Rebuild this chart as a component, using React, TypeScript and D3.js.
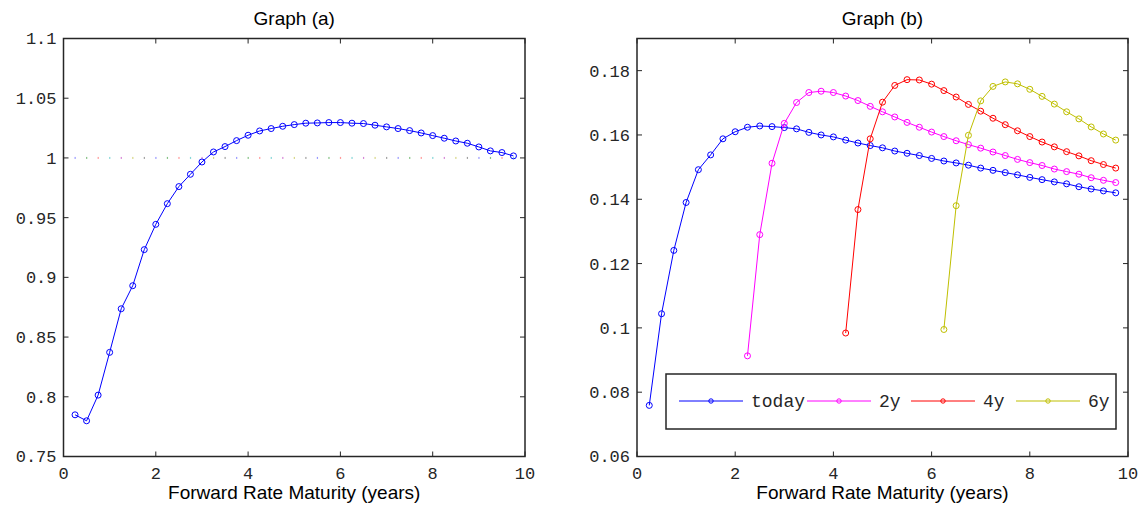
import React from "react";
import * as d3 from "d3";

// ---------- data ----------
const maturities: number[] = d3.range(1, 40).map((i) => i * 0.25); // 0.25 .. 9.75

const ratioA: number[] = [
  0.7849, 0.7799, 0.8014, 0.8372, 0.8737, 0.893, 0.9232, 0.9444, 0.9617, 0.976,
  0.9863, 0.9966, 1.005, 1.0095, 1.0145, 1.019, 1.0226, 1.0246, 1.0265, 1.0279,
  1.0291, 1.0293, 1.0296, 1.0296, 1.0291, 1.0288, 1.0274, 1.026, 1.0246, 1.0229,
  1.0209, 1.0187, 1.0165, 1.0142, 1.0123, 1.0092, 1.0059, 1.0045, 1.0017,
];

const today: number[] = [
  0.0759, 0.1044, 0.1241, 0.139, 0.1492, 0.1538, 0.1588, 0.161, 0.1624, 0.1628,
  0.1626, 0.1623, 0.1619, 0.1608, 0.16, 0.1594, 0.1584, 0.1575, 0.1567, 0.156,
  0.155, 0.1543, 0.1536, 0.1527, 0.1519, 0.1513, 0.1506, 0.1497, 0.149, 0.1483,
  0.1476, 0.1468, 0.1461, 0.1454, 0.1448, 0.1439, 0.1432, 0.1426, 0.142,
];
const in2y: number[] = [
  0.0913, 0.129, 0.1512, 0.1636, 0.1701, 0.1732, 0.1736, 0.1732, 0.1721, 0.1707,
  0.1689, 0.1672, 0.1656, 0.1639, 0.1624, 0.1609, 0.1595, 0.1582, 0.157, 0.1559,
  0.1547, 0.1536, 0.1524, 0.1514, 0.1505, 0.1494, 0.1486, 0.1478, 0.1467, 0.1459,
  0.1452,
];
const in4y: number[] = [
  0.0984, 0.1368, 0.1588, 0.1702, 0.1754, 0.1772, 0.1771, 0.1758, 0.1738, 0.1718,
  0.1695, 0.1674, 0.1652, 0.1632, 0.1613, 0.1595, 0.1578, 0.1563, 0.1548, 0.1535,
  0.152, 0.1508, 0.1497,
];
const in6y: number[] = [
  0.0995, 0.138, 0.1599, 0.1706, 0.1751, 0.1765, 0.1759, 0.1742, 0.172, 0.1696,
  0.1672, 0.165, 0.1625, 0.1603, 0.1584,
];

const seriesNames = ["today", "2y", "4y", "6y"];
const seriesColors = ["#0000ff", "#ff00ff", "#ff0000", "#bfbf00"];
const seriesValues = [today, in2y, in4y, in6y];
const seriesStart = [0, 8, 16, 24]; // index into maturities where series begins

const xTicks = [0, 2, 4, 6, 8, 10];
const yTicksA = [0.75, 0.8, 0.85, 0.9, 0.95, 1, 1.05, 1.1];
const yTicksB = [0.06, 0.08, 0.1, 0.12, 0.14, 0.16, 0.18];
const dotColors = ["#8080ff", "#66b366", "#ff8080", "#66cccc", "#cc66cc", "#cccc66", "#888888"];

const W = 1146;
const H = 509;
const monoFont = "'Courier New', 'Liberation Mono', monospace";
const sansFont = "'Liberation Sans', Arial, Helvetica, sans-serif";
const axisColor = "#262626";

type Panel = { left: number; right: number; top: number; bottom: number };

function Frame({
  p,
  x,
  y,
  yTicks,
  yFmt,
  title,
}: {
  p: Panel;
  x: d3.ScaleLinear<number, number>;
  y: d3.ScaleLinear<number, number>;
  yTicks: number[];
  yFmt: (v: number) => string;
  title: string;
}) {
  const tl = 5;
  return (
    <g>
      <rect
        x={p.left}
        y={p.top}
        width={p.right - p.left}
        height={p.bottom - p.top}
        fill="none"
        stroke={axisColor}
        strokeWidth={1.5}
      />
      {xTicks.map((t) => (
        <g key={"x" + t}>
          <line x1={x(t)} x2={x(t)} y1={p.bottom} y2={p.bottom - tl} stroke={axisColor} strokeWidth={1} />
          <line x1={x(t)} x2={x(t)} y1={p.top} y2={p.top + tl} stroke={axisColor} strokeWidth={1} />
          <text
            x={x(t)}
            y={p.bottom + 22}
            textAnchor="middle"
            fontFamily={monoFont}
            fontSize={17}
            fill={axisColor}
          >
            {String(t)}
          </text>
        </g>
      ))}
      {yTicks.map((t) => (
        <g key={"y" + t}>
          <line x1={p.left} x2={p.left + tl} y1={y(t)} y2={y(t)} stroke={axisColor} strokeWidth={1} />
          <line x1={p.right} x2={p.right - tl} y1={y(t)} y2={y(t)} stroke={axisColor} strokeWidth={1} />
          <text
            x={p.left - 7}
            y={y(t)}
            dy="0.35em"
            textAnchor="end"
            fontFamily={monoFont}
            fontSize={17}
            fill={axisColor}
          >
            {yFmt(t)}
          </text>
        </g>
      ))}
      <text
        x={(p.left + p.right) / 2}
        y={25}
        textAnchor="middle"
        fontFamily={sansFont}
        fontSize={19}
        fill="#000"
      >
        {title}
      </text>
      <text
        x={(p.left + p.right) / 2}
        y={499}
        textAnchor="middle"
        fontFamily={sansFont}
        fontSize={19}
        fill="#000"
      >
        Forward Rate Maturity (years)
      </text>
    </g>
  );
}

export default function App() {
  const pA: Panel = { left: 63.5, right: 525, top: 38.5, bottom: 456.5 };
  const pB: Panel = { left: 637, right: 1128, top: 38.5, bottom: 456.5 };

  const xA = d3.scaleLinear().domain([0, 10]).range([pA.left, pA.right]);
  const yA = d3.scaleLinear().domain([0.75, 1.1]).range([pA.bottom, pA.top]);
  const xB = d3.scaleLinear().domain([0, 10]).range([pB.left, pB.right]);
  const yB = d3.scaleLinear().domain([0.06, 0.19]).range([pB.bottom, pB.top]);

  const fmt = (v: number) => String(+v.toFixed(2));

  const lineA = d3
    .line<number>()
    .x((_, i) => xA(maturities[i]))
    .y((d) => yA(d));

  const legend = { left: 666, right: 1116, top: 374, bottom: 429, lineY: 401 };
  const legendItemX = [679, 807, 911, 1016];

  return (
    <svg
      width={W}
      height={H}
      style={{ position: "absolute", left: 0, top: 0, background: "#fff" }}
    >
      <rect x={0} y={0} width={W} height={H} fill="#fff" />

      {/* Panel (a) */}
      {maturities.map((m, i) => (
        <rect
          key={"dot" + i}
          x={xA(m) - 0.5}
          y={yA(1) - 1}
          width={1.2}
          height={2}
          fill={dotColors[i % dotColors.length]}
          opacity={0.8}
        />
      ))}
      <path d={lineA(ratioA) || ""} fill="none" stroke="#0000ff" strokeWidth={1} />
      {ratioA.map((v, i) => (
        <circle
          key={"ca" + i}
          cx={xA(maturities[i])}
          cy={yA(v)}
          r={3}
          fill="none"
          stroke="#0000ff"
          strokeWidth={1}
        />
      ))}
      <Frame p={pA} x={xA} y={yA} yTicks={yTicksA} yFmt={fmt} title="Graph (a)" />

      {/* Panel (b) */}
      {seriesValues.map((vals, s) => {
        const start = seriesStart[s];
        const line = d3
          .line<number>()
          .x((_, i) => xB(maturities[start + i]))
          .y((d) => yB(d));
        return (
          <g key={"s" + s}>
            <path d={line(vals) || ""} fill="none" stroke={seriesColors[s]} strokeWidth={1} />
            {vals.map((v, i) => (
              <circle
                key={i}
                cx={xB(maturities[start + i])}
                cy={yB(v)}
                r={3}
                fill="none"
                stroke={seriesColors[s]}
                strokeWidth={1}
              />
            ))}
          </g>
        );
      })}
      <Frame p={pB} x={xB} y={yB} yTicks={yTicksB} yFmt={fmt} title="Graph (b)" />

      {/* Legend */}
      <rect
        x={legend.left}
        y={legend.top}
        width={legend.right - legend.left}
        height={legend.bottom - legend.top}
        fill="#fff"
        stroke={axisColor}
        strokeWidth={1.5}
      />
      {seriesNames.map((name, s) => {
        const x0 = legendItemX[s];
        return (
          <g key={"lg" + s}>
            <line
              x1={x0}
              x2={x0 + 64}
              y1={legend.lineY}
              y2={legend.lineY}
              stroke={seriesColors[s]}
              strokeWidth={1}
            />
            <circle
              cx={x0 + 32}
              cy={legend.lineY}
              r={2.2}
              fill="none"
              stroke={seriesColors[s]}
              strokeWidth={1}
            />
            <text
              x={x0 + 72}
              y={legend.lineY}
              dy="0.35em"
              fontFamily={monoFont}
              fontSize={18}
              fill={axisColor}
            >
              {name}
            </text>
          </g>
        );
      })}
    </svg>
  );
}
